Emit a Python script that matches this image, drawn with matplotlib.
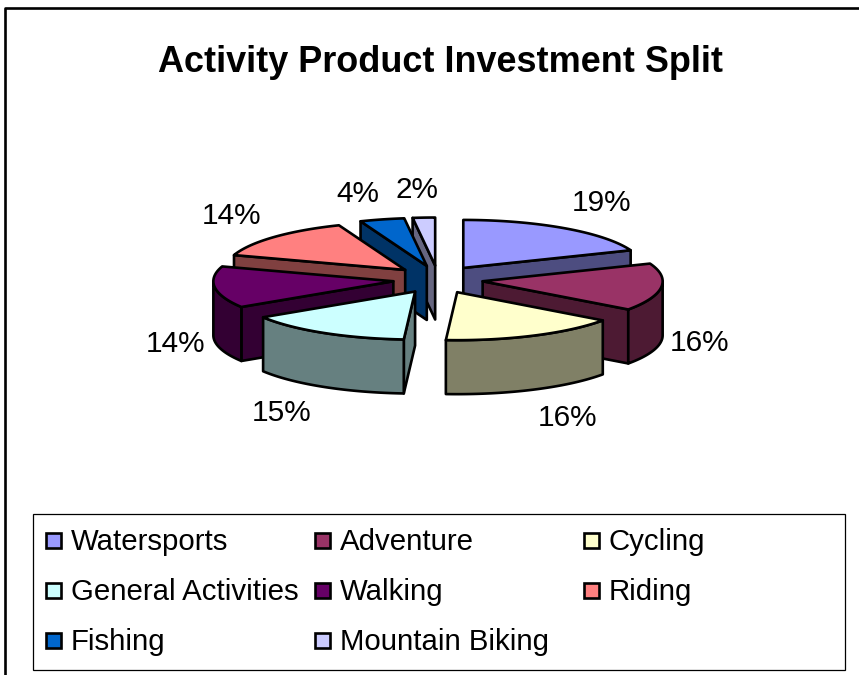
import numpy as np
import matplotlib
matplotlib.use("Agg")
import matplotlib.pyplot as plt
from matplotlib.patches import Polygon, Rectangle

TITLE = "Activity Product Investment Split"
names = ["Watersports", "Adventure", "Cycling", "General Activities",
         "Walking", "Riding", "Fishing", "Mountain Biking"]
values = [19, 16, 16, 15, 14, 14, 4, 2]
colors = ["#9999FF", "#993366", "#FFFFCC", "#CCFFFF",
          "#660066", "#FF8080", "#0066CC", "#CCCCFF"]

# pie layout, everything in pixels
CX, CY = 438, 279.5
RX, RY = 180, 48
EXPLODE_X, EXPLODE_Y = 45, 14
DEPTH = 54
EDGE_LW = 1.9
label_xy = [(602, 203), (700, 343), (568, 418), (282, 413),
            (175, 344), (232, 216), (358, 194), (417, 190)]
# back slices go first so the front ones paint over them
draw_order = [0, 1, 2, 7, 6, 5, 4, 3]


def rim(apex, a0, a1):
    ang = np.radians(np.linspace(a0, a1, 60))
    return np.column_stack([apex[0] + RX * np.sin(ang), apex[1] - RY * np.cos(ang)])


def wall(top_pts, side):
    bottom = top_pts[::-1] + [0, DEPTH]
    return Polygon(np.vstack([top_pts, bottom]), closed=True, facecolor=side,
                   edgecolor="black", lw=EDGE_LW, joinstyle="round")


def main():
    fig = plt.figure(figsize=(8.59, 6.75), dpi=100)
    ax = fig.add_axes([0, 0, 1, 1])
    ax.set_xlim(0, 859)
    ax.set_ylim(675, 0)
    ax.axis("off")
    plt.rcParams["font.family"] = ["Liberation Sans", "DejaVu Sans"]

    # chart frame, cropped at right and bottom
    ax.plot([5, 5, 859], [675, 8, 8], color="black", lw=1.9)

    ax.text(441, 62, TITLE, fontsize=25.9, fontweight="bold", ha="center", va="center")

    ends = np.cumsum(values) / sum(values) * 360
    starts = np.concatenate([[0], ends[:-1]])

    for i in draw_order:
        a0, a1 = starts[i], ends[i]
        mid = np.radians((a0 + a1) / 2)
        apex = np.array([CX + EXPLODE_X * np.sin(mid), CY - EXPLODE_Y * np.cos(mid)])
        edge = rim(apex, a0, a1)
        side = np.array(matplotlib.colors.to_rgb(colors[i])) * 0.5

        # only faces turned towards the viewer
        if np.sin(np.radians(a0)) < -1e-9:
            ax.add_patch(wall(np.array([apex, edge[0]]), side))
        if np.sin(np.radians(a1)) > 1e-9:
            ax.add_patch(wall(np.array([edge[-1], apex]), side))
        lo, hi = max(a0, 90), min(a1, 270)
        if lo < hi:
            ax.add_patch(wall(rim(apex, lo, hi), side))

        ax.add_patch(Polygon(np.vstack([apex, edge]), closed=True, facecolor=colors[i],
                             edgecolor="black", lw=EDGE_LW, joinstyle="round"))

    for v, (x, y) in zip(values, label_xy):
        ax.text(x, y, f"{v}%", fontsize=21.4, ha="center", va="center")

    # legend
    ax.add_patch(Rectangle((33, 514), 812, 156, facecolor="white", edgecolor="black", lw=0.9))
    col_x = [46, 315, 584]
    row_y = [540, 590, 640]
    for i, name in enumerate(names):
        x = col_x[i % 3]
        y = row_y[i // 3]
        ax.add_patch(Rectangle((x, y - 7.5), 15, 15, facecolor=colors[i],
                               edgecolor="black", lw=EDGE_LW))
        ax.text(x + 25, y + 2, name, fontsize=21.2, ha="left", va="center")

    fig.savefig("out.png", dpi=100)


if __name__ == "__main__":
    main()
